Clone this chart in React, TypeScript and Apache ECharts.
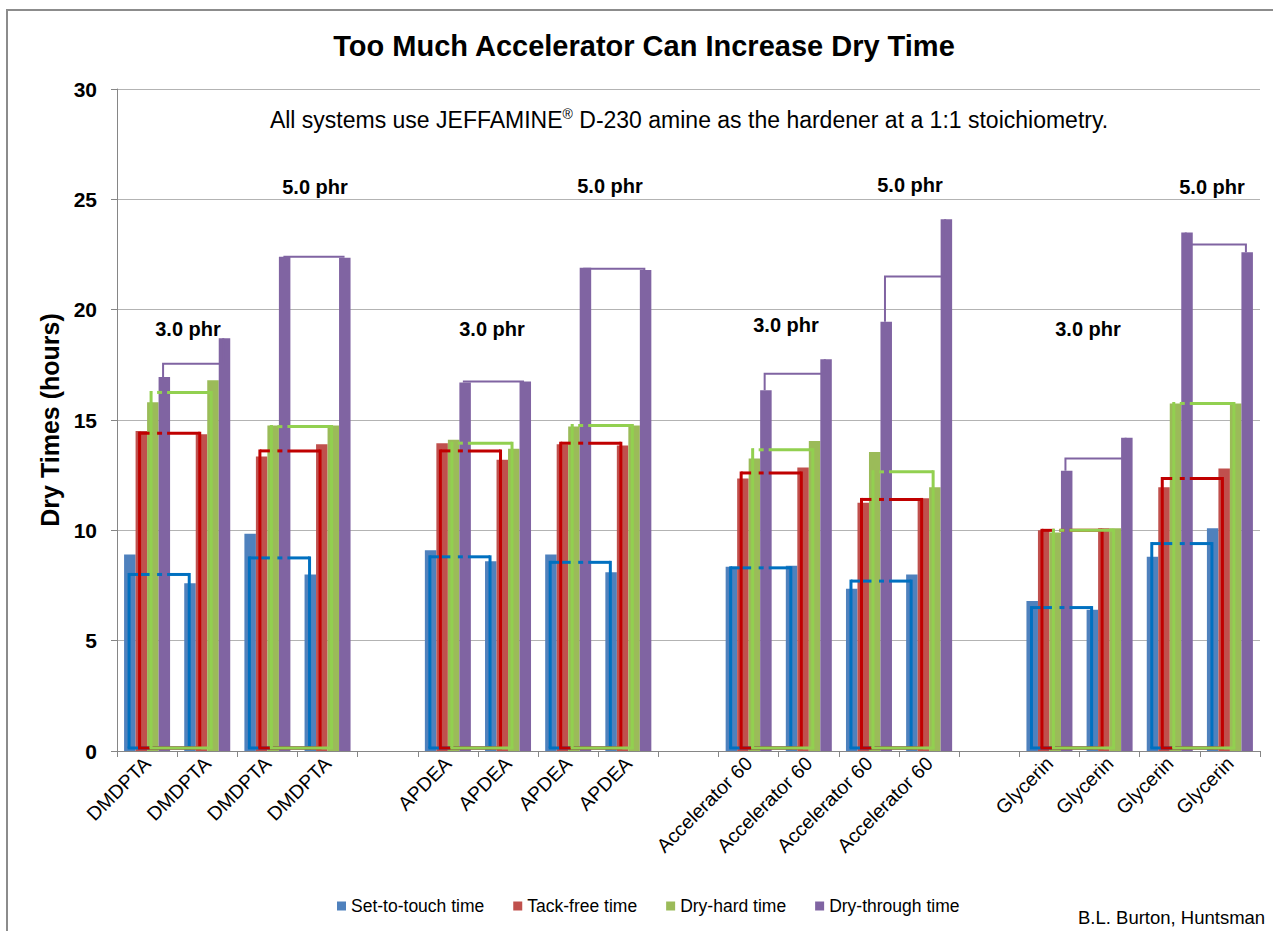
import React, { useEffect, useRef } from 'react';
import * as echarts from 'echarts';

const categories = [
  'DMDPTA', 'DMDPTA', 'DMDPTA', 'DMDPTA', '',
  'APDEA', 'APDEA', 'APDEA', 'APDEA', '',
  'Accelerator 60', 'Accelerator 60', 'Accelerator 60', 'Accelerator 60', '',
  'Glycerin', 'Glycerin', 'Glycerin', 'Glycerin',
];
const seriesNames = ['Set-to-touch time', 'Tack-free time', 'Dry-hard time', 'Dry-through time'];
const setToTouch = [8.9, 7.6, 9.85, 8.0, null, 9.1, 8.6, 8.9, 8.1, null, 8.35, 8.4, 7.35, 8.0, null, 6.8, 6.4, 8.8, 10.1];
const tackFree = [14.5, 14.35, 13.35, 13.9, null, 13.95, 13.2, 13.9, 13.85, null, 12.35, 12.85, 11.25, 11.45, null, 10.0, 10.1, 11.95, 12.8];
const dryHard = [15.8, 16.8, 14.75, 14.75, null, 14.1, 13.7, 14.7, 14.75, null, 13.25, 14.05, 13.55, 11.95, null, 9.9, 10.1, 15.75, 15.75];
const dryThrough = [16.95, 18.7, 22.4, 22.35, null, 16.7, 16.75, 21.9, 21.8, null, 16.35, 17.75, 19.45, 24.1, null, 12.7, 14.2, 23.5, 22.6];

// bracket pairs (left category index of each pair) and their levels
const pairLeft = [0, 2, 5, 7, 10, 12, 15, 17];
const blueLevel = [8.0, 8.75, 8.8, 8.55, 8.3, 7.7, 6.5, 9.4];
const redLevel = [14.4, 13.6, 13.6, 13.95, 12.6, 11.4, 10.0, 12.35];
const greenLevel = [16.25, 14.7, 13.95, 14.75, 13.65, 12.65, 10.0, 15.75];
const purpleLevel = [17.55, 22.4, 16.75, 21.85, 17.1, 21.5, 13.25, 22.95];

const phrLabels = ['3.0 phr', '5.0 phr', '3.0 phr', '5.0 phr', '3.0 phr', '5.0 phr', '3.0 phr', '5.0 phr'];
const phrPos = [[188, 329], [315, 187], [492, 329], [610, 186], [786, 325], [910, 185], [1088, 329], [1212, 187]];

const FONT = 'Liberation Sans, Arial, sans-serif';

function rectBracket(levels: number[], offset: number, color: string, width: number) {
  return (params: any, api: any) => {
    const i = params.dataIndex;
    const l = pairLeft[i];
    const pL = api.coord([l, levels[i]]);
    const pR = api.coord([l + 1, levels[i]]);
    const base = api.coord([l, 0]);
    const c = pL[0];
    const x1 = pL[0] + offset;
    const x2 = pR[0] + offset;
    const yT = pL[1];
    const yB = base[1] - 3;
    const style = { stroke: color, lineWidth: width, fill: null, lineCap: 'butt' };
    const segs: number[][] = [];
    const cuts = [[x1, c + 5], [c + 10, c + 15], [c + 20, x2]];
    cuts.forEach(([a, b]) => {
      const s = Math.max(a, x1 - width / 2);
      const e = Math.min(b, x2 + width / 2);
      if (e > s) segs.push([s, e]);
    });
    const children: any[] = [
      { type: 'polyline', shape: { points: [[x1, yB], [x1, yT - width / 2]] }, style },
      { type: 'polyline', shape: { points: [[x2, yT - width / 2], [x2, yB]] }, style },
      { type: 'polyline', shape: { points: [[x1 - width / 2, yB], [x2 + width / 2, yB]] }, style },
    ];
    segs.forEach(([s, e]) => {
      children.push({ type: 'polyline', shape: { points: [[s, yT], [e, yT]] }, style });
    });
    return { type: 'group', children };
  };
}

function topBracket(levels: number[], values: (number | null)[], offset: number, color: string, width: number) {
  return (params: any, api: any) => {
    const i = params.dataIndex;
    const l = pairLeft[i];
    const pL = api.coord([l, levels[i]]);
    const pR = api.coord([l + 1, levels[i]]);
    const v1 = api.coord([l, values[l] as number]);
    const v2 = api.coord([l + 1, values[l + 1] as number]);
    const x1 = pL[0] + offset;
    const x2 = pR[0] + offset;
    return {
      type: 'polyline',
      shape: { points: [[x1, v1[1]], [x1, pL[1]], [x2, pL[1]], [x2, v2[1]]] },
      style: { stroke: color, lineWidth: width, fill: null },
    };
  };
}

export default function App() {
  const ref = useRef<HTMLDivElement>(null);
  useEffect(() => {
    if (!ref.current) return;
    const chart = echarts.init(ref.current, undefined, { renderer: 'svg' });
    const barColors = ['#4F81BD', '#C0504D', '#9BBB59', '#8064A2'];
    const barData = [setToTouch, tackFree, dryHard, dryThrough];
    const bracketData = (levels: number[]) => pairLeft.map((l, i) => [l, levels[i]]);
    const graphic: any[] = [
      {
        type: 'rect', shape: { x: 7, y: 10, width: 1290, height: 950 },
        style: { fill: null, stroke: '#8C8C8C', lineWidth: 2 }, silent: true, z: 0,
      },
      {
        type: 'text', x: 644, y: 46,
        style: { text: 'Too Much Accelerator Can Increase Dry Time', font: `bold 29px ${FONT}`, fill: '#000', align: 'center', verticalAlign: 'middle' },
      },
      {
        type: 'text', x: 689, y: 120,
        style: {
          text: '{a|All systems use JEFFAMINE}{s|®}{a| D-230 amine as the hardener at a 1:1 stoichiometry.}',
          align: 'center', verticalAlign: 'middle',
          rich: {
            a: { fontSize: 23, fontFamily: FONT, fill: '#000', lineHeight: 27 },
            s: { fontSize: 14, fontFamily: FONT, fill: '#000', verticalAlign: 'top', lineHeight: 27 },
          },
        },
      },
      {
        type: 'text', x: 1078, y: 917,
        style: { text: 'B.L. Burton, Huntsman', font: `18.5px ${FONT}`, fill: '#000', align: 'left', verticalAlign: 'middle' },
      },
    ];
    phrLabels.forEach((t, i) => {
      graphic.push({
        type: 'text', x: phrPos[i][0], y: phrPos[i][1],
        style: { text: t, font: `bold 20px ${FONT}`, fill: '#000', align: 'center', verticalAlign: 'middle' },
      });
    });

    const option: any = {
      animation: false,
      backgroundColor: '#fff',
      grid: { left: 117, right: 13, top: 89, bottom: 180, containLabel: false },
      legend: {
        data: seriesNames,
        left: 337, top: 897, padding: 0,
        icon: 'rect', itemWidth: 9, itemHeight: 9, itemGap: 29,
        textStyle: { fontSize: 17.5, fontFamily: FONT, color: '#000' },
      },
      xAxis: {
        type: 'category',
        data: categories,
        axisLine: { lineStyle: { color: '#868686', width: 1 } },
        axisTick: { show: true, length: 6, alignWithLabel: false, lineStyle: { color: '#868686' } },
        axisLabel: { interval: 0, rotate: 45, fontSize: 19.5, fontFamily: FONT, color: '#000', margin: 9 },
      },
      yAxis: {
        type: 'value', min: 0, max: 30, interval: 5,
        name: 'Dry Times (hours)', nameLocation: 'middle', nameGap: 52, nameRotate: 90,
        nameTextStyle: { fontSize: 25, fontWeight: 'bold', fontFamily: FONT, color: '#000' },
        axisLine: { show: true, lineStyle: { color: '#868686', width: 1 } },
        axisTick: { show: true, length: 6, lineStyle: { color: '#868686' } },
        axisLabel: { fontSize: 21, fontWeight: 'bold', fontFamily: FONT, color: '#000', margin: 20 },
        splitLine: { lineStyle: { color: '#B3B3B3', width: 1 } },
      },
      series: [
        ...seriesNames.map((n, k) => ({
          name: n, type: 'bar', data: barData[k], barWidth: 11.5, barGap: '0%',
          itemStyle: { color: barColors[k] }, z: 2,
        })),
        { name: 'b-blue', type: 'custom', data: bracketData(blueLevel), renderItem: rectBracket(blueLevel, -18, '#0070C0', 3), z: 3, encode: { x: 0, y: 1 } },
        { name: 'b-red', type: 'custom', data: bracketData(redLevel), renderItem: rectBracket(redLevel, -7.5, '#C00000', 3), z: 3, encode: { x: 0, y: 1 } },
        { name: 'b-green', type: 'custom', data: bracketData(greenLevel), renderItem: rectBracket(greenLevel, 4, '#92D050', 3), z: 3, encode: { x: 0, y: 1 } },
        { name: 'b-purple', type: 'custom', data: bracketData(purpleLevel), renderItem: topBracket(purpleLevel, dryThrough, 16, '#8064A2', 2), z: 3, encode: { x: 0, y: 1 } },
      ],
      graphic,
    };
    chart.setOption(option);
    return () => chart.dispose();
  }, []);
  return <div ref={ref} style={{ position: 'fixed', left: 0, top: 0, width: 1273, height: 931 }} />;
}
